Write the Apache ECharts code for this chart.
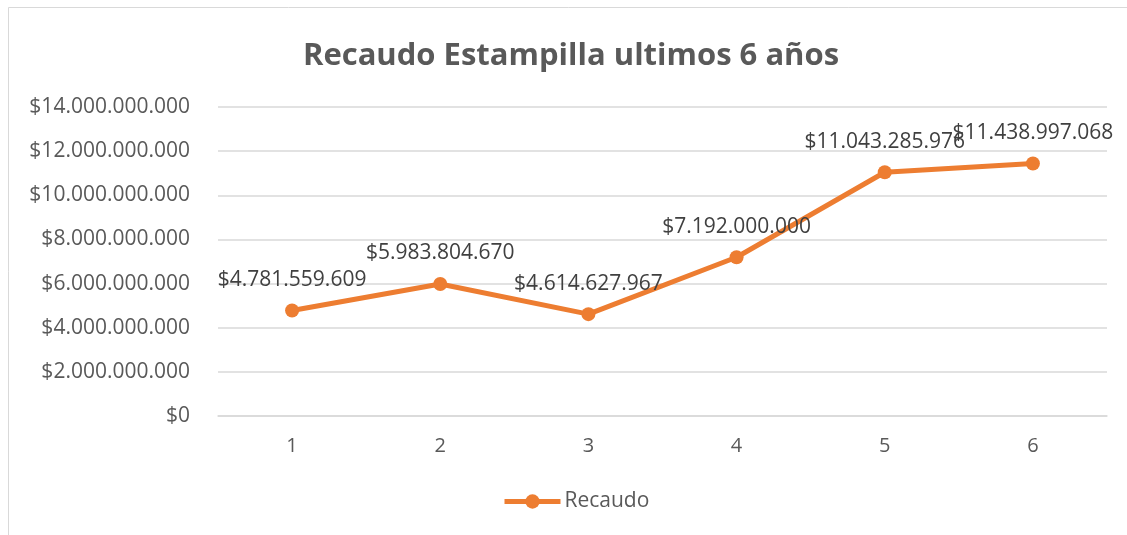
<!DOCTYPE html>
<html>
<head>
<meta charset="utf-8">
<script src="https://cdn.jsdelivr.net/npm/echarts@6/dist/echarts.min.js"></script>
<style>
  html, body { margin: 0; padding: 0; background: #fff; }
  #main { width: 1127px; height: 535px; }
</style>
</head>
<body>
<div id="main"></div>
<script>
const years = ['1', '2', '3', '4', '5', '6'];
const recaudo = [4781559609, 5983804670, 4614627967, 7192000000, 11043285976, 11438997068];
const yTicks = [0, 2000000000, 4000000000, 6000000000, 8000000000, 10000000000, 12000000000, 14000000000];

document.addEventListener('DOMContentLoaded', init);

function init() {
    drawChart();
}

// 1234567 -> "$1.234.567"
function pesos(v) {
    return '$' + Math.round(v).toString().replace(/\B(?=(\d{3})+(?!\d))/g, '.');
}

function drawChart() {
    let myChart = echarts.init(document.getElementById('main'));
    const font = '"Open Sans", sans-serif';
    const gray = '#595959';

    let option = {
        backgroundColor: '#fff',
        textStyle: { fontFamily: font },
        graphic: [{
            type: 'rect',
            shape: { x: 8.5, y: 7.5, width: 1130, height: 540 },
            style: { fill: 'none', stroke: '#d9d9d9', lineWidth: 1 },
            silent: true
        }],
        title: {
            text: 'Recaudo Estampilla ultimos 6 años',
            left: 566,
            top: 36,
            textAlign: 'center',
            textStyle: { fontFamily: font, fontSize: 31, fontWeight: 'bold', color: gray }
        },
        legend: {
            data: ['Recaudo'],
            left: 497,
            top: 486,
            itemWidth: 56,
            itemHeight: 18,
            itemGap: 4,
            lineStyle: { width: 5 },
            textStyle: { fontFamily: font, fontSize: 21, color: gray, padding: [0, 0, 0, -1] }
        },
        grid: { left: 218, right: 20, top: 107, bottom: 119 },
        xAxis: {
            type: 'category',
            data: years,
            boundaryGap: true,
            axisLine: { lineStyle: { color: '#d9d9d9', width: 1.5 } },
            axisTick: { show: false },
            axisLabel: { color: gray, fontSize: 20, margin: 20, fontFamily: font }
        },
        yAxis: {
            type: 'value',
            min: yTicks[0],
            max: yTicks[yTicks.length - 1],
            interval: 2000000000,
            axisLine: { show: false },
            axisTick: { show: false },
            splitLine: { lineStyle: { color: '#d9d9d9', width: 1.5 } },
            axisLabel: { color: gray, fontSize: 21, margin: 28, fontFamily: font, formatter: pesos }
        },
        series: [{
            name: 'Recaudo',
            type: 'line',
            data: recaudo,
            symbol: 'circle',
            symbolSize: 14,
            lineStyle: { color: '#ED7D31', width: 5 },
            itemStyle: { color: '#ED7D31' },
            label: {
                show: true,
                position: 'top',
                distance: 13,
                color: '#404040',
                fontSize: 21,
                fontFamily: font,
                formatter: p => pesos(p.value)
            }
        }]
    };

    myChart.setOption(option);
}
</script>
</body>
</html>
